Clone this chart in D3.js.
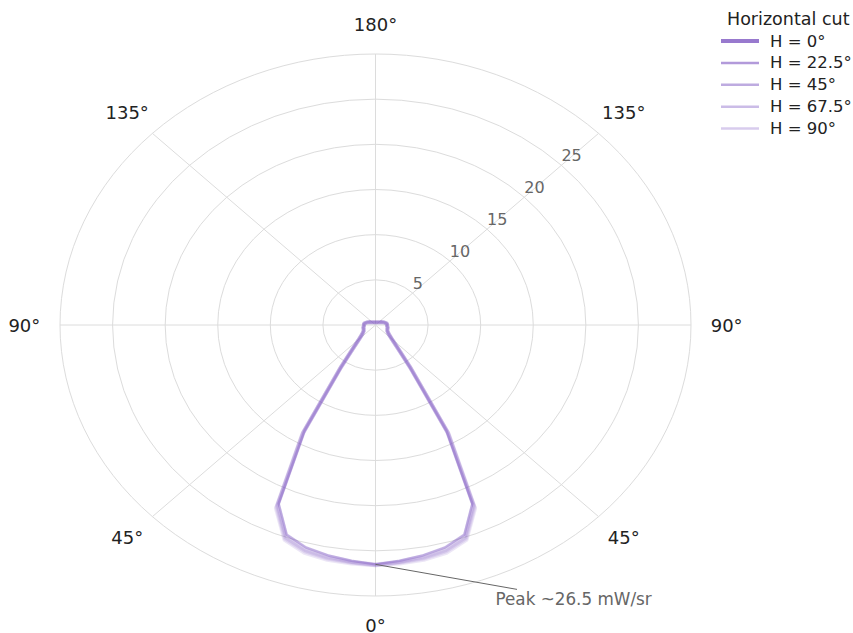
<!DOCTYPE html>
<html>
<head>
<meta charset="utf-8">
<script src="https://cdn.jsdelivr.net/npm/d3@7"></script>
<style>
  body { margin: 0; background: #fff; }
  svg { font-family: "DejaVu Sans", sans-serif; }
</style>
</head>
<body>
<div id="chart"></div>
<script>
// angles in degrees, 0 = straight down, 5 degree steps round the full circle
const angles = d3.range(0, 360, 5);

// radiant intensity (mW/sr) for each horizontal cut
const h0 = [26.5, 26.2, 25.9, 25.5, 24.7, 21.8, 13.5, 5.7, 3.2, 2.2,
  1.7, 1.45, 1.3, 1.25, 1.2, 1.2, 1.15, 1.1, 1.1, 1.1, 1.05, 0.95, 0.85, 0.75, 0.65, 0.55, 0.48, 0.43, 0.4, 0.37, 0.35, 0.34, 0.33, 0.32, 0.32, 0.31, 0.31,
  0.31, 0.32, 0.32, 0.33, 0.34, 0.35, 0.37, 0.4, 0.43, 0.48, 0.55, 0.65, 0.75, 0.85, 0.95, 1.05, 1.1, 1.1, 1.1, 1.15, 1.2, 1.2, 1.25, 1.3, 1.45, 1.7,
  2.2, 3.2, 5.7, 13.5, 21.8, 24.7, 25.5, 25.9, 26.2];
const h225 = [26.5, 26.3, 26.0, 25.65, 24.85, 21.95, 13.6, 5.75, 3.2, 2.2,
  1.7, 1.45, 1.3, 1.25, 1.2, 1.2, 1.15, 1.1, 1.1, 1.1, 1.05, 0.95, 0.85, 0.75, 0.65, 0.55, 0.48, 0.43, 0.4, 0.37, 0.35, 0.34, 0.33, 0.32, 0.32, 0.31, 0.31,
  0.31, 0.32, 0.32, 0.33, 0.34, 0.35, 0.37, 0.4, 0.43, 0.48, 0.55, 0.65, 0.75, 0.85, 0.95, 1.05, 1.1, 1.1, 1.1, 1.15, 1.2, 1.2, 1.25, 1.3, 1.45, 1.7,
  2.2, 3.2, 5.75, 13.6, 21.95, 24.85, 25.65, 26.0, 26.3];
const h45 = [26.55, 26.35, 26.15, 25.8, 25.0, 22.1, 13.7, 5.8, 3.2, 2.2,
  1.7, 1.45, 1.3, 1.25, 1.2, 1.2, 1.15, 1.1, 1.1, 1.1, 1.05, 0.95, 0.85, 0.75, 0.65, 0.55, 0.48, 0.43, 0.4, 0.37, 0.35, 0.34, 0.33, 0.32, 0.32, 0.31, 0.31,
  0.31, 0.32, 0.32, 0.33, 0.34, 0.35, 0.37, 0.4, 0.43, 0.48, 0.55, 0.65, 0.75, 0.85, 0.95, 1.05, 1.1, 1.1, 1.1, 1.15, 1.2, 1.2, 1.25, 1.3, 1.45, 1.7,
  2.2, 3.2, 5.8, 13.7, 22.1, 25.0, 25.8, 26.15, 26.35];
const h675 = [26.6, 26.4, 26.25, 25.95, 25.15, 22.25, 13.8, 5.85, 3.2, 2.2,
  1.7, 1.45, 1.3, 1.25, 1.2, 1.2, 1.15, 1.1, 1.1, 1.1, 1.05, 0.95, 0.85, 0.75, 0.65, 0.55, 0.48, 0.43, 0.4, 0.37, 0.35, 0.34, 0.33, 0.32, 0.32, 0.31, 0.31,
  0.31, 0.32, 0.32, 0.33, 0.34, 0.35, 0.37, 0.4, 0.43, 0.48, 0.55, 0.65, 0.75, 0.85, 0.95, 1.05, 1.1, 1.1, 1.1, 1.15, 1.2, 1.2, 1.25, 1.3, 1.45, 1.7,
  2.2, 3.2, 5.85, 13.8, 22.25, 25.15, 25.95, 26.25, 26.4];
const h90 = [26.6, 26.5, 26.4, 26.1, 25.3, 22.4, 13.9, 5.9, 3.2, 2.2,
  1.7, 1.45, 1.3, 1.25, 1.2, 1.2, 1.15, 1.1, 1.1, 1.1, 1.05, 0.95, 0.85, 0.75, 0.65, 0.55, 0.48, 0.43, 0.4, 0.37, 0.35, 0.34, 0.33, 0.32, 0.32, 0.31, 0.31,
  0.31, 0.32, 0.32, 0.33, 0.34, 0.35, 0.37, 0.4, 0.43, 0.48, 0.55, 0.65, 0.75, 0.85, 0.95, 1.05, 1.1, 1.1, 1.1, 1.15, 1.2, 1.2, 1.25, 1.3, 1.45, 1.7,
  2.2, 3.2, 5.9, 13.9, 22.4, 25.3, 26.1, 26.4, 26.5];

const seriesNames = ["H = 0°", "H = 22.5°", "H = 45°", "H = 67.5°", "H = 90°"];
const seriesValues = [h0, h225, h45, h675, h90];
// line alpha on the plot (they pile up), and the plain tint shown in the legend
const seriesAlpha = [0.4, 0.15, 0.15, 0.15, 0.15];
const seriesWidth = [2.5, 4, 4, 4, 4];
const legendAlpha = [0.8, 0.6, 0.5, 0.4, 0.3];

const angleTicks = [0, 45, 90, 135, 180, 225, 270, 315];
const angleLabels = ["0°", "45°", "90°", "135°", "180°", "135°", "90°", "45°"];
const ringValues = [5, 10, 15, 20, 25, 30];
const radialTicks = [5, 10, 15, 20, 25];
const peakValue = 26.5;

const W = 853, H = 633;
const cx = 375.5, cy = 325;
// the figure was stretched, so the polar axes are an ellipse
const Rx = 315.5, Ry = 271;
const purple = "126,87,194";

const svg = d3.select("#chart").append("svg").attr("width", W).attr("height", H);

const r = d3.scaleLinear().domain([0, 30]).range([0, 1]);
const rad = d => d * Math.PI / 180;
const px = (a, v) => cx + Rx * r(v) * Math.sin(rad(a));
const py = (a, v) => cy + Ry * r(v) * Math.cos(rad(a));

// grid
const grid = svg.append("g");
grid.selectAll("ellipse").data(ringValues).enter().append("ellipse")
  .attr("cx", cx).attr("cy", cy)
  .attr("rx", d => Rx * r(d)).attr("ry", d => Ry * r(d))
  .attr("fill", "none").attr("stroke", "#dcdcdc").attr("stroke-width", 1);
grid.selectAll("line").data(angleTicks).enter().append("line")
  .attr("x1", cx).attr("y1", cy)
  .attr("x2", d => px(d, 30)).attr("y2", d => py(d, 30))
  .attr("stroke", "#dcdcdc").attr("stroke-width", 1);

// radial tick labels along the upper right spoke
svg.append("g").selectAll("text").data(radialTicks).enter().append("text")
  .attr("x", d => px(135, d))
  .attr("y", d => py(135, d) - 4)
  .attr("font-size", 16).attr("fill", "#666")
  .text(d => d);

// angle labels
svg.append("g").selectAll("text").data(angleTicks).enter().append("text")
  .attr("x", d => cx + Rx * 1.113 * Math.sin(rad(d)))
  .attr("y", d => cy + Ry * 1.11 * Math.cos(rad(d)))
  .attr("text-anchor", "middle").attr("dominant-baseline", "central")
  .attr("font-size", 18).attr("fill", "#222")
  .text((d, i) => angleLabels[i]);

// curves
const line = d3.line().x(d => px(d[0], d[1])).y(d => py(d[0], d[1])).curve(d3.curveLinearClosed);
seriesValues.forEach((vals, i) => {
  svg.append("path")
    .datum(angles.map((a, j) => [a, vals[j]]))
    .attr("d", line)
    .attr("fill", "none")
    .attr("stroke", `rgba(${purple},${seriesAlpha[i]})`)
    .attr("stroke-width", seriesWidth[i])
    .attr("stroke-linejoin", "round");
});

// peak annotation
const peakX = px(0, peakValue), peakY = py(0, peakValue);
const note = svg.append("text")
  .attr("x", peakX + 120).attr("y", peakY + 35)
  .attr("dominant-baseline", "central")
  .attr("font-size", 16.8).attr("fill", "#666")
  .text("Peak ~26.5 mW/sr");
const bb = note.node().getBBox();
const tcx = bb.x + bb.width / 2, tcy = bb.y + bb.height / 2;
// stop the leader where it meets the top of the text box
const t = (bb.y - peakY) / (tcy - peakY);
svg.append("line")
  .attr("x1", peakX).attr("y1", peakY)
  .attr("x2", peakX + (tcx - peakX) * t).attr("y2", peakY + (tcy - peakY) * t)
  .attr("stroke", "#666").attr("stroke-width", 1);

// legend
const legend = svg.append("g");
legend.append("text").attr("x", 727).attr("y", 19)
  .attr("dominant-baseline", "central").attr("font-size", 17.5).attr("fill", "#222")
  .text("Horizontal cut");
seriesNames.forEach((name, i) => {
  const y = 41 + i * 21.9;
  legend.append("line").attr("x1", 721).attr("x2", 759).attr("y1", y).attr("y2", y)
    .attr("stroke", `rgba(${purple},${legendAlpha[i]})`)
    .attr("stroke-width", i === 0 ? 4 : 2.5);
  legend.append("text").attr("x", 770).attr("y", y)
    .attr("dominant-baseline", "central").attr("font-size", 16.5).attr("fill", "#222")
    .text(name);
});
</script>
</body>
</html>
